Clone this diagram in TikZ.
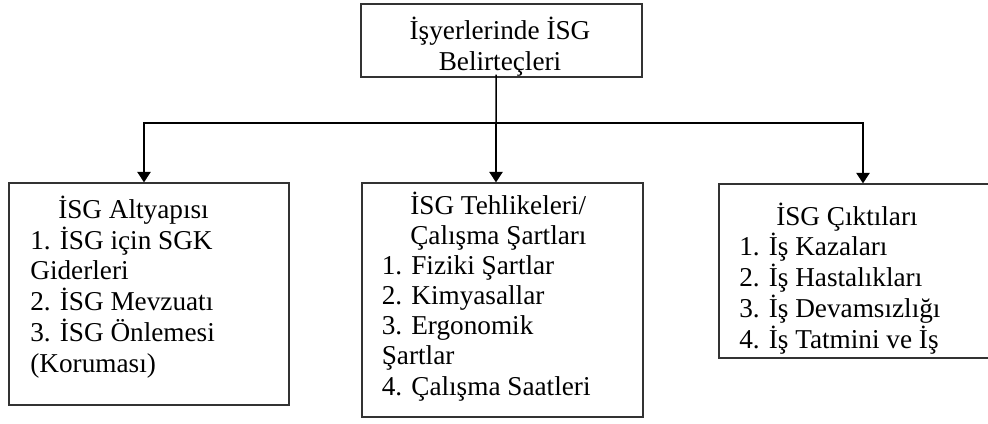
\documentclass[tikz,border=0pt]{standalone}
\usepackage{fontspec}
\setmainfont{Liberation Serif}
\usetikzlibrary{arrows.meta}

\begin{document}
\begin{tikzpicture}[x=0.02cm, y=-0.02cm, font=\fontsize{15.5pt}{17.1pt}\selectfont]
    % Node styles
    \tikzset{box node/.style={rectangle,draw=black!80,line width=0.75pt,inner sep=0pt},
             text node/.style={align=left,inner sep=0pt,anchor=base west},
             wide lines/.style={font=\fontsize{15.5pt}{17.5pt}\selectfont},
             link/.style={line width=0.85pt},
             arrow/.style={link,-{Triangle[width=7.6pt,length=6pt]}}}
    \useasboundingbox (0,0) rectangle (988,423);

    % Top box - indicators (base = last line)
    \node[box node, minimum width=5.62cm, minimum height=1.46cm] (top) at (501.5, 40.5) {};
    \node[inner sep=0pt, align=center, anchor=base] (topT) at (500, 70) {İşyerlerinde İSG\\Belirteçleri};

    % Level 1: three boxes
    \node[box node, minimum width=5.6cm, minimum height=4.44cm] (alt) at (149, 294) {};
    \node[box node, minimum width=5.62cm, minimum height=4.68cm] (teh) at (502.5, 300) {};
    \node[box node, minimum width=5.76cm, minimum height=3.48cm] (cikti) at (863, 271) {};

    % Box texts (placed at baseline of last line)
    \node[text node, wide lines] (altT) at (30, 372) {\hspace*{15.9pt}İSG Altyapısı\\1. İSG için SGK\\Giderleri\\2. İSG Mevzuatı\\3. İSG Önlemesi\\(Koruması)};
    \node[text node] (tehT) at (381.5, 395) {\hspace*{16.2pt}İSG Tehlikeleri/\\\hspace*{16.2pt}Çalışma Şartları\\1. Fiziki Şartlar\\2. Kimyasallar\\3. Ergonomik\\Şartlar\\4. Çalışma Saatleri};
    \node[text node, wide lines] (ciktiT) at (739, 348) {\hspace*{21pt}İSG Çıktıları\\1. İş Kazaları\\2. İş Hastalıkları\\3. İş Devamsızlığı\\4. İş Tatmini ve İş};

    % Connectors
    \coordinate (hub) at (496, 123);
    \draw[link] ([xshift=-0.11cm,yshift=0.06cm]top.south) -- (hub);
    \draw[arrow] (hub) -| ([xshift=-0.1cm]alt.north);
    \draw[arrow] (hub) -- (hub |- teh.north);
    \draw[arrow] (hub) -| (cikti.north);
\end{tikzpicture}
\end{document}
